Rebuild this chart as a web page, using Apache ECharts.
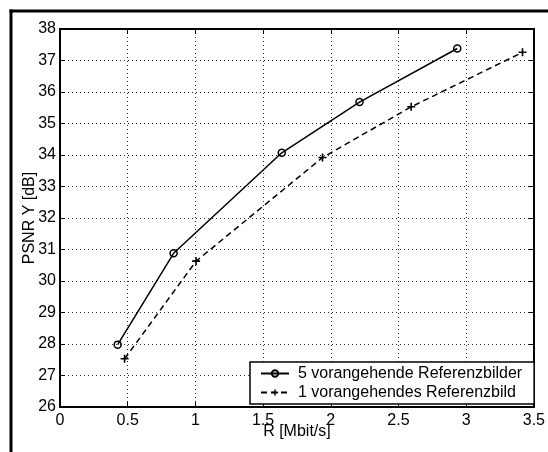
<!DOCTYPE html>
<html>
<head>
<meta charset="utf-8">
<script src="https://cdn.jsdelivr.net/npm/echarts@6/dist/echarts.min.js"></script>
<style>
  html, body { margin: 0; padding: 0; background: #fff; }
  #chart { width: 548px; height: 452px; }
</style>
</head>
<body>
<div id="chart"></div>
<script>
// values
const seriesNames = ["5 vorangehende Referenzbilder", "1 vorangehendes Referenzbild"];
const rateFive = [0.426, 0.839, 1.638, 2.212, 2.934];
const psnrFive = [27.98, 30.88, 34.07, 35.68, 37.38];
const rateOne = [0.477, 1.005, 1.939, 2.594, 3.416];
const psnrOne = [27.53, 30.63, 33.92, 35.53, 37.26];
const xRange = [0, 3.5];
const yRange = [26, 38];

const font = "'Liberation Sans', Arial, Helvetica, sans-serif";
const plus = "path://M4,0H6V4H10V6H6V10H4V6H0V4H4Z";

const chart = echarts.init(document.getElementById("chart"), null, { renderer: "canvas" });

const tick = { show: true, inside: true, length: 5, lineStyle: { color: "#000", width: 1 } };
const axisLine = { show: true, onZero: false, lineStyle: { color: "#000", width: 2 } };
const grid = { show: true, lineStyle: { color: "#333", width: 1, type: [1, 3] } };

chart.setOption({
  animation: false,
  backgroundColor: "#fff",
  textStyle: { fontFamily: font },
  grid: { left: 60, right: 8, top: 29, bottom: 45 },
  graphic: [
    { type: "line", shape: { x1: 9.5, y1: 11, x2: 548, y2: 11 }, style: { stroke: "#000", lineWidth: 3 } },
    { type: "line", shape: { x1: 11, y1: 9.5, x2: 11, y2: 452 }, style: { stroke: "#000", lineWidth: 3 } }
  ],
  xAxis: [
    {
      type: "value", position: "bottom", min: xRange[0], max: xRange[1], interval: 0.5,
      name: "R [Mbit/s]", nameLocation: "middle", nameGap: 17, nameMoveOverlap: false,
      nameTextStyle: { color: "#000", fontSize: 16, fontFamily: font },
      axisLine, axisTick: tick, splitLine: grid,
      axisLabel: { color: "#000", fontSize: 16, fontFamily: font, margin: 6 }
    },
    {
      type: "value", position: "top", min: xRange[0], max: xRange[1], interval: 0.5,
      axisLine, axisTick: tick, splitLine: { show: false }, axisLabel: { show: false }
    }
  ],
  yAxis: [
    {
      type: "value", position: "left", min: yRange[0], max: yRange[1], interval: 1,
      name: "PSNR Y [dB]", nameLocation: "middle", nameGap: 22, nameRotate: 90, nameMoveOverlap: false,
      nameTextStyle: { color: "#000", fontSize: 16, fontFamily: font },
      axisLine, axisTick: tick, splitLine: grid,
      axisLabel: { color: "#000", fontSize: 16, fontFamily: font, margin: 4 }
    },
    {
      type: "value", position: "right", min: yRange[0], max: yRange[1], interval: 1,
      axisLine, axisTick: tick, splitLine: { show: false }, axisLabel: { show: false }
    }
  ],
  legend: {
    orient: "vertical",
    left: 250, top: 362,
    padding: [3, 12, 3, 10],
    itemGap: 2,
    itemWidth: 28, itemHeight: 8,
    backgroundColor: "#fff",
    borderColor: "#000", borderWidth: 1.5,
    textStyle: { color: "#000", fontSize: 16, fontFamily: font, lineHeight: 17, padding: [0, 0, 0, 4] },
    data: seriesNames
  },
  series: [
    {
      name: seriesNames[0], type: "line",
      data: rateFive.map((r, i) => [r, psnrFive[i]]),
      symbol: "circle", symbolSize: 7, showAllSymbol: true,
      lineStyle: { color: "#000", width: 1.5, type: "solid" },
      itemStyle: { color: "rgba(255,255,255,0)", borderColor: "#000", borderWidth: 1.5 }
    },
    {
      name: seriesNames[1], type: "line",
      data: rateOne.map((r, i) => [r, psnrOne[i]]),
      symbol: plus, symbolSize: 8, showAllSymbol: true,
      lineStyle: { color: "#000", width: 1.5, type: [6, 4] },
      itemStyle: { color: "#000", borderWidth: 0 }
    }
  ]
});
</script>
</body>
</html>
